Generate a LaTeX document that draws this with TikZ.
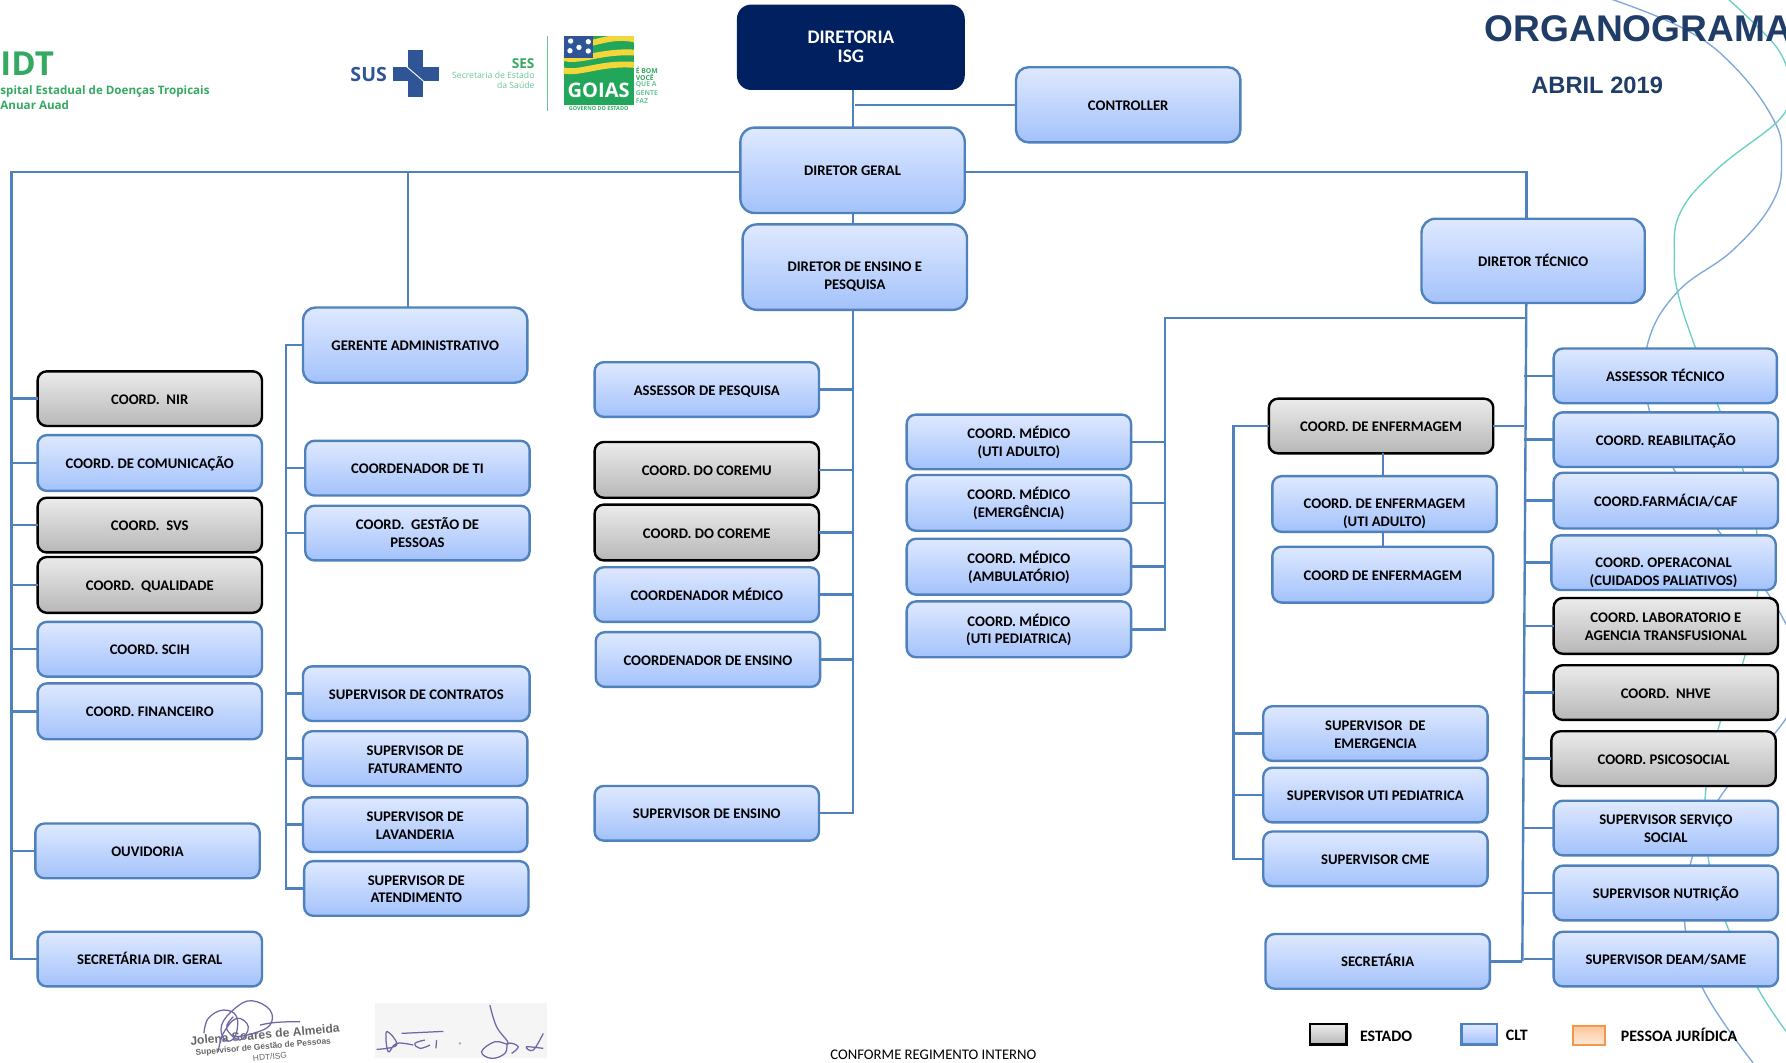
\documentclass[tikz,border=0pt]{standalone}
\usepackage{fontspec}
\setmainfont{Carlito}
\newfontfamily\arialf{Liberation Sans}
\newfontfamily\opf{Open Sans}
\usetikzlibrary{calc}
\definecolor{lineblue}{HTML}{4F81BD}
\definecolor{navy}{HTML}{002060}
\definecolor{titleblue}{HTML}{1F3D66}
\definecolor{curveblue}{HTML}{7FA9D9}
\definecolor{curveteal}{HTML}{6DD0C6}
\definecolor{logogreen}{HTML}{35A862}
\definecolor{lightgreen}{HTML}{6CC596}
\definecolor{susblue}{HTML}{2F5597}
\definecolor{flaggreen}{HTML}{21A65A}
\definecolor{flagyellow}{HTML}{F4D53A}
\definecolor{sigpurple}{HTML}{6F66A8}
\definecolor{cltTop}{HTML}{DFE9FF}
\definecolor{cltBot}{HTML}{A3C2FB}
\definecolor{grayTop}{HTML}{EBEBEB}
\definecolor{grayBot}{HTML}{B7B7B7}
\definecolor{pjTop}{HTML}{FBC79A}
\definecolor{pjBot}{HTML}{FDEBDD}
\definecolor{pjLine}{HTML}{F79646}
\tikzset{
  base/.style={inner sep=0pt,outer sep=0pt,align=center,font=\fontsize{6.45}{7.8}\selectfont\bfseries},
  clt/.style={base,draw=lineblue,line width=1.05pt,top color=cltTop,bottom color=cltBot},
  gray box/.style={base,draw=black,line width=1.05pt,top color=grayTop,bottom color=grayBot},
  dark/.style={base,fill=navy,text=white,font=\fontsize{8.4}{8.6}\selectfont\bfseries},
  pj/.style={base,draw=pjLine,line width=1.05pt,top color=pjTop,bottom color=pjBot},
  legend/.style={sharp corners},
  conn/.style={draw=lineblue,line width=1.05pt},
  zoomed/.style={x=0.1463pt,y=-0.1463pt},
  curve/.style={line width=0.6pt,smooth,tension=0.7},
  sig/.style={draw=sigpurple,line width=0.55pt},
  lbl/.style={inner sep=0pt,outer sep=0pt,font=\fontsize{7}{8}\selectfont\bfseries},
}
\newcommand{\orgbox}[7]{%
  \pgfmathsetmacro{\ocx}{(#3+#5)/2}%
  \pgfmathsetmacro{\ocy}{(#4+#6)/2}%
  \pgfmathsetmacro{\owd}{(#5-#3)*0.5}%
  \pgfmathsetmacro{\oht}{(#6-#4)*0.5}%
  \pgfmathsetmacro{\ora}{(#6-#4)*0.5/6}%
  \node[rounded corners=\ora pt,minimum width=\owd pt,minimum height=\oht pt,#1] (#2) at (\ocx,\ocy) {\rule{0pt}{6.3pt}#7\rule[-1.4pt]{0pt}{0pt}};}
\newcommand{\dn}{\rule{0pt}{13.3pt}}
\begin{document}
\begin{tikzpicture}[x=0.5pt,y=-0.5pt]
\useasboundingbox (0,0) rectangle (1568,932.4);
\clip (0,0) rectangle (1568,932.4);
% decorative curves
\draw[curveblue,curve] plot coordinates {(1411,-2) (1478,25) (1522,58) (1557,105) (1564,138) (1557,176) (1522,219) (1472,257) (1446,304) (1447,356) (1469,411) (1508,465) (1550,518) (1570,552)};
\draw[curveblue,curve] plot coordinates {(1570,627) (1558,644) (1510,700) (1485,755) (1479,810) (1495,868) (1539,933)};
\draw[curveteal,curve] plot coordinates {(1516,-2) (1557,38) (1569,61)};
\draw[curveteal,curve] plot coordinates {(1569,94) (1557,110) (1507,149) (1475,187) (1470,226) (1473,257) (1488,304) (1509,358) (1530,412) (1542,465) (1543,521) (1531,579) (1509,638) (1497,700) (1500,755) (1516,812) (1544,869) (1570,908)};
% title
\node[inner sep=0pt,anchor=west,text=titleblue,font=\arialf\bfseries\fontsize{16.3}{18}\selectfont] (title) at (1303,25) {ORGANOGRAMA};
\node[inner sep=0pt,anchor=west,text=titleblue,font=\arialf\bfseries\fontsize{10.4}{13}\selectfont] (date) at (1344,74.5) {ABRIL 2019};
% HDT logo
\node[inner sep=0pt,anchor=west,text=logogreen,font=\opf\bfseries\fontsize{14.5}{16}\selectfont] (hdt) at (0,56) {IDT};
\node[inner sep=0pt,anchor=west,text=logogreen,font=\opf\fontsize{5.1}{7}\selectfont\bfseries] (hosp) at (0,80) {spital Estadual de Doenças Tropicais};
\node[inner sep=0pt,anchor=west,text=logogreen,font=\opf\fontsize{5.1}{7}\selectfont\bfseries] (anuar) at (0,92.5) {Anuar Auad};
% SUS / SES / Goias logos
\begin{scope}[shift={(298.5,17.6)},zoomed]
  \node[inner sep=0pt,anchor=west,text=susblue,font=\opf\bfseries\fontsize{8.6}{9}\selectfont] (sus) at (30,162) {SUS};
  \fill[susblue] (205,90) rectangle (250,230);
  \fill[susblue] (160,140) rectangle (298,183);
  \draw[white,line width=0.4pt] (200,140) -- (250,183);
  \node[inner sep=0pt,anchor=east,text=logogreen,font=\opf\bfseries\fontsize{6}{7}\selectfont] (ses) at (585,130) {SES};
  \node[inner sep=0pt,anchor=east,text=lightgreen,font=\opf\fontsize{3.8}{5}\selectfont] (sec1) at (585,165) {Secretaria de Estado};
  \node[inner sep=0pt,anchor=east,text=lightgreen,font=\opf\fontsize{3.8}{5}\selectfont] (sec2) at (585,195) {da Saúde};
  \draw[lightgreen,line width=0.4pt] (622,48) -- (622,272);
  \begin{scope}
    \clip (671,48) rectangle (882,255);
    \fill[flaggreen] (671,48) rectangle (882,255);
    \draw[flagyellow,line width=2.6pt] (750,70) .. controls (790,60) and (840,45) .. (890,60);
    \draw[flagyellow,line width=2.6pt] (665,112) .. controls (720,130) and (780,90) .. (890,98);
    \draw[flagyellow,line width=2.6pt] (665,150) .. controls (720,165) and (780,125) .. (890,135);
    \fill[susblue] (671,48) rectangle (760,114);
    \foreach \sx/\sy in {692/63,745/65,717/82,690/92,745/93}{\fill[white] (\sx,\sy) circle (8);}
  \end{scope}
  \node[inner sep=0pt,text=white,font=\opf\bfseries\fontsize{8.8}{9}\selectfont] (goias) at (776,212) {GOIAS};
  \node[inner sep=0pt,text=logogreen,font=\opf\bfseries\fontsize{2.4}{3}\selectfont] (gov) at (776,266) {GOVERNO DO ESTADO};
  \node[inner sep=0pt,anchor=west,text=logogreen,font=\opf\bfseries\fontsize{3}{3}\selectfont] (gs1) at (886,152) {É BOM};
  \node[inner sep=0pt,anchor=west,text=logogreen,font=\opf\bfseries\fontsize{3}{3}\selectfont] (gs2) at (886,172) {VOCÊ};
  \node[inner sep=0pt,anchor=west,text=lightgreen,font=\opf\bfseries\fontsize{3}{3}\selectfont] (gs3) at (886,195) {QUE A};
  \node[inner sep=0pt,anchor=west,text=lightgreen,font=\opf\bfseries\fontsize{3}{3}\selectfont] (gs4) at (886,220) {GENTE};
  \node[inner sep=0pt,anchor=west,text=lightgreen,font=\opf\bfseries\fontsize{3}{3}\selectfont] (gs5) at (886,243) {FAZ};
\end{scope}
% signatures
\begin{scope}[shift={(158,869.2)},zoomed]
  \node[inner sep=0pt,rotate=5,text=gray!80!black,font=\arialf\bfseries\fontsize{5.3}{6}\selectfont] (sg1) at (255,133) {Jolena Soares de Almeida};
  \node[inner sep=0pt,rotate=5,text=gray!80!black,font=\arialf\bfseries\fontsize{3.7}{4}\selectfont] (sg2) at (250,172) {Supervisor de Gestão de Pessoas};
  \node[inner sep=0pt,rotate=5,text=gray!80!black,font=\arialf\fontsize{3.7}{4}\selectfont] (sg3) at (270,200) {HDT/ISG};
  \draw[sig] plot[smooth,tension=0.7] coordinates {(72,130) (85,85) (130,60) (170,80) (165,140) (135,150) (125,105) (165,55) (215,32) (270,60) (270,105) (220,130) (170,140)};
  \draw[sig] plot[smooth,tension=0.7] coordinates {(115,185) (130,130) (170,85) (205,110) (180,150) (140,115) (160,80)};
  \draw[sig] (240,105) .. controls (280,95) and (320,95) .. (360,95);
  \fill[gray!8] (585,40) rectangle (1100,205);
  \draw[sig] plot[smooth,tension=0.7] coordinates {(590,178) (650,165) (620,125) (625,185) (650,160) (700,165)};
  \draw[sig] (665,130) -- (790,124);
  \draw[sig] plot[smooth,tension=0.7] coordinates {(735,150) (705,160) (720,175) (750,165)};
  \draw[sig] (770,150) -- (768,175);
  \fill[sigpurple!60] (840,160) circle (4);
  \draw[sig] plot[smooth,tension=0.7] coordinates {(930,45) (950,110) (985,160) (945,155) (905,185) (935,205) (975,190) (985,160) (1015,170) (995,190)};
  \draw[sig] plot[smooth,tension=0.7] coordinates {(1090,130) (1060,180) (1040,170) (1090,175)};
\end{scope}
% boxes
\orgbox{dark}{isg}{647}{4}{847}{79}{DIRETORIA\\ISG}
\orgbox{clt}{ctrl}{892}{59}{1089}{125}{CONTROLLER}
\orgbox{clt}{geral}{650}{112}{847}{187}{DIRETOR GERAL}
\orgbox{clt}{ens}{652}{197}{849}{272}{\dn DIRETOR DE ENSINO E\\PESQUISA}
\orgbox{clt}{tec}{1248}{192}{1444}{266}{DIRETOR TÉCNICO}
\orgbox{clt}{ger}{266}{270}{463}{336}{GERENTE ADMINISTRATIVO}
% left column
\orgbox{gray box}{nir}{33}{326}{230}{374}{COORD.\ \ NIR}
\orgbox{clt}{com}{33}{382}{230}{431}{COORD. DE COMUNICAÇÃO}
\orgbox{gray box}{svs}{33}{437}{230}{485}{COORD.\ \ SVS}
\orgbox{gray box}{qual}{33}{489}{230}{538}{COORD.\ \ QUALIDADE}
\orgbox{clt}{scih}{33}{546}{230}{594}{COORD. SCIH}
\orgbox{clt}{fin}{33}{600}{230}{649}{COORD. FINANCEIRO}
\orgbox{clt}{ouv}{31}{723}{228}{771}{OUVIDORIA}
\orgbox{clt}{secdir}{33}{818}{230}{866}{SECRETÁRIA DIR. GERAL}
% admin column
\orgbox{clt}{ti}{268}{387}{465}{435}{COORDENADOR DE TI}
\orgbox{clt}{gp}{268}{444}{465}{492}{COORD.\ \ GESTÃO DE\\PESSOAS}
\orgbox{clt}{contr}{266}{585}{465}{633}{SUPERVISOR DE CONTRATOS}
\orgbox{clt}{fat}{266}{642}{463}{690}{SUPERVISOR DE\\FATURAMENTO}
\orgbox{clt}{lav}{266}{700}{463}{748}{SUPERVISOR DE\\LAVANDERIA}
\orgbox{clt}{aten}{267}{756}{464}{804}{SUPERVISOR DE\\ATENDIMENTO}
% teaching column
\orgbox{clt}{apesq}{522}{318}{719}{366}{ASSESSOR DE PESQUISA}
\orgbox{gray box}{coremu}{522}{388}{719}{437}{COORD. DO COREMU}
\orgbox{gray box}{coreme}{522}{443}{719}{492}{COORD. DO COREME}
\orgbox{clt}{cmed}{522}{498}{719}{546}{COORDENADOR MÉDICO}
\orgbox{clt}{cens}{523}{555}{720}{603}{COORDENADOR DE ENSINO}
\orgbox{clt}{sens}{522}{690}{719}{738}{SUPERVISOR DE ENSINO}
% medical column
\orgbox{clt}{meda}{796}{364}{993}{412}{COORD. MÉDICO\\(UTI ADULTO)}
\orgbox{clt}{medb}{796}{417}{993}{466}{COORD. MÉDICO\\(EMERGÊNCIA)}
\orgbox{clt}{medc}{796}{473}{993}{522}{COORD. MÉDICO\\(AMBULATÓRIO)}
\orgbox{clt}{medd}{796}{528}{993}{577}{COORD. MÉDICO\\(UTI PEDIATRICA)}
% nursing column
\orgbox{gray box}{enf}{1114}{350}{1311}{398}{COORD. DE ENFERMAGEM}
\orgbox{clt}{enfuti}{1117}{418}{1314}{467}{\dn COORD. DE ENFERMAGEM\\(UTI ADULTO)}
\orgbox{clt}{enfb}{1117}{480}{1311}{529}{COORD DE ENFERMAGEM}
\orgbox{clt}{sem}{1109}{620}{1306}{668}{SUPERVISOR\ \ DE\\EMERGENCIA}
\orgbox{clt}{sup}{1109}{674}{1306}{722}{SUPERVISOR UTI PEDIATRICA}
\orgbox{clt}{cme}{1109}{730}{1306}{778}{SUPERVISOR CME}
\orgbox{clt}{sec}{1111}{820}{1308}{868}{SECRETÁRIA}
% right column
\orgbox{clt}{atec}{1364}{306}{1560}{354}{ASSESSOR TÉCNICO}
\orgbox{clt}{reab}{1364}{362}{1561}{410}{COORD. REABILITAÇÃO}
\orgbox{clt}{farm}{1364}{415}{1561}{464}{COORD.FARMÁCIA/CAF}
\orgbox{clt}{oper}{1362}{470}{1559}{518}{\dn COORD. OPERACONAL\\(CUIDADOS PALIATIVOS)}
\orgbox{gray box}{lab}{1364}{525}{1561}{574}{COORD. LABORATORIO E\\AGENCIA TRANSFUSIONAL}
\orgbox{gray box}{nhve}{1364}{584}{1561}{632}{COORD.\ \ NHVE}
\orgbox{gray box}{psi}{1362}{642}{1559}{690}{COORD. PSICOSOCIAL}
\orgbox{clt}{soc}{1364}{703}{1561}{751}{SUPERVISOR SERVIÇO\\SOCIAL}
\orgbox{clt}{nut}{1364}{760}{1561}{808}{SUPERVISOR NUTRIÇÃO}
\orgbox{clt}{deam}{1364}{818}{1561}{866}{SUPERVISOR DEAM/SAME}
% legend
\orgbox{gray box,legend}{legE}{1150}{899}{1182}{917}{}
\orgbox{clt,legend}{legC}{1283}{899}{1314}{917}{}
\orgbox{pj,legend}{legP}{1381}{901}{1409}{917.6}{}
\node[lbl,anchor=west] (ltE) at (1194,909.5) {ESTADO};
\node[lbl,anchor=west] (ltC) at (1322,908.5) {CLT};
\node[lbl,anchor=west] (ltP) at (1423,908.5) {PESSOA JURÍDICA};
\node[inner sep=0pt,anchor=center,font=\fontsize{6.45}{7}\selectfont] (conf) at (819.5,926) {CONFORME REGIMENTO INTERNO};
% connector helpers
\coordinate (tl) at (10,151);
\coordinate (tg) at (358,151);
\coordinate (tr) at (1340,151);
\coordinate (cx) at (749,92);
\coordinate (gb) at (251,303);
\coordinate (tm) at (1023,279);
\coordinate (tt) at (1338,400);
\coordinate (tb) at (1336.5,844);
\coordinate (bl) at (1083,376);
\coordinate (ex) at (1214,400);
% connectors
\draw[conn] (geral.west |- tl) -- (tl) |- (secdir.west);
\foreach \n in {nir,com,svs,qual,scih,fin,ouv} {\draw[conn] (tl |- \n.west) -- (\n.west);}
\draw[conn] (tg) -- (tg |- ger.north);
\draw[conn] (geral.east |- tr) -- (tr) -- (tr |- tec.north);
\draw[conn] (isg.south -| cx) -- (geral.north -| cx);
\draw[conn] (cx) ++(2,0) -- (ctrl.west);
\draw[conn] (geral.south -| cx) -- (ens.north -| cx);
\draw[conn] (ens.south -| cx) -- (cx |- sens.east) -- (sens.east);
\foreach \n in {apesq,coremu,coreme,cmed,cens} {\draw[conn] (cx |- \n.east) -- (\n.east);}
\draw[conn] (ger.west) -- (gb |- ger.west) -- (gb |- aten.west) -- (aten.west);
\foreach \n in {ti,gp,contr,fat,lav} {\draw[conn] (gb |- \n.west) -- (\n.west);}
\draw[conn] (tec.south -| tr) -- (tb);
\draw[conn] (tr |- tm) -- (tm) -- (tm |- medd.east) -- (medd.east);
\foreach \n in {meda,medb,medc} {\draw[conn] (tm |- \n.east) -- (\n.east);}
\foreach \n in {atec,reab,farm,oper,lab,nhve,psi,soc,nut,deam} {\draw[conn] (tt |- \n.west) -- (\n.west);}
\draw[conn] (enf.east) -- (tt |- enf.east);
\draw[conn] (sec.east) -- (tb);
\draw[conn] (enf.west) -- (bl |- enf.west) -- (bl |- cme.west) -- (cme.west);
\foreach \n in {sem,sup} {\draw[conn] (bl |- \n.west) -- (\n.west);}
\draw[conn] (enf.south -| ex) -- (enfuti.north -| ex);
\draw[conn] (enfuti.south -| ex) -- (enfb.north -| ex);
\end{tikzpicture}
\end{document}
